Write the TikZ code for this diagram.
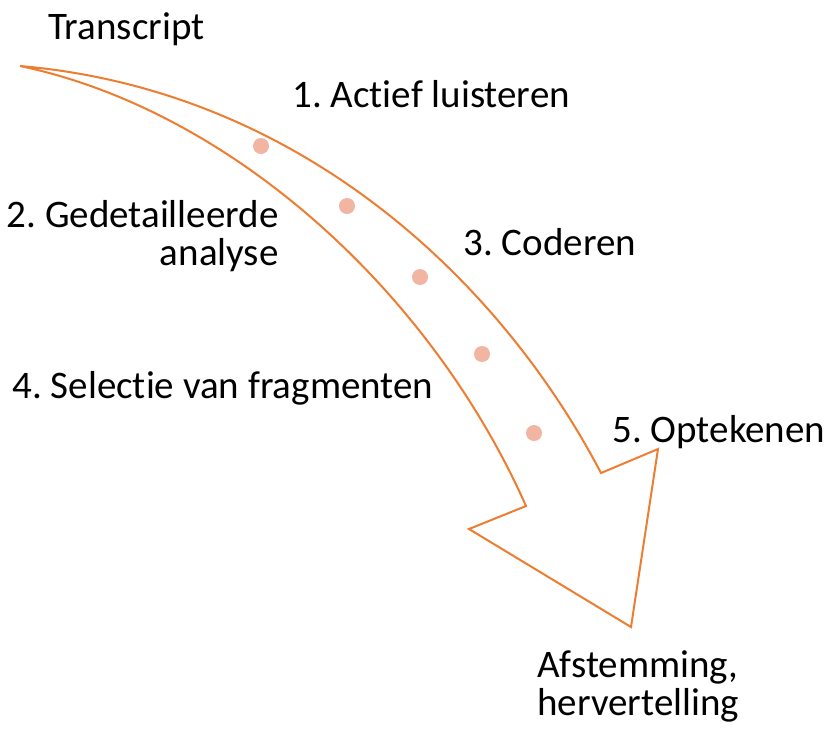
\documentclass[tikz,border=0pt]{standalone}
\usepackage{fontspec}
\setmainfont{Carlito}[Ligatures=NoCommon]
\definecolor{arroworange}{RGB}{237,125,49}
\definecolor{dotpink}{RGB}{241,181,161}
\begin{document}
\frenchspacing
\begin{tikzpicture}[x=0.5pt,y=-0.5pt,
  arrowline/.style={draw=arroworange,line width=1pt,line join=miter,fill=white},
  stepdot/.style={fill=dotpink,draw=none},
  lbl/.style={inner sep=0pt,font=\fontsize{19.5}{18.75}\selectfont}]
\useasboundingbox (0,0) rectangle (835,736);
\draw[arrowline] (20,66) .. controls (300,90) and (500,280) .. (601,473)
  -- (658,449) -- (631,627) -- (469,529) -- (526,506)
  .. controls (430,290) and (230,110) .. (20,66) -- cycle;
\foreach \x/\y in {261/146,347/206,420/277,482/354,534/433}
  \fill[stepdot] (\x,\y) circle (4pt);
\node[lbl,anchor=base west] (transcript) at (48,39) {Transcript};
\node[lbl,anchor=base west] (luisteren) at (292,107) {1. Actief luisteren};
\node[lbl,anchor=base east,align=right] (analyse) at (279,265) {2. Gedetailleerde\\analyse};
\node[lbl,anchor=base west] (coderen) at (463,255) {3. Coderen};
\node[lbl,anchor=base west] (selectie) at (12,398) {4. Selectie van fragmenten};
\node[lbl,anchor=base west] (optekenen) at (612,442) {5. Optekenen};
\node[lbl,anchor=base west,align=left] (afstemming) at (537,715) {Afstemming,\\hervertelling};
\end{tikzpicture}
\end{document}
